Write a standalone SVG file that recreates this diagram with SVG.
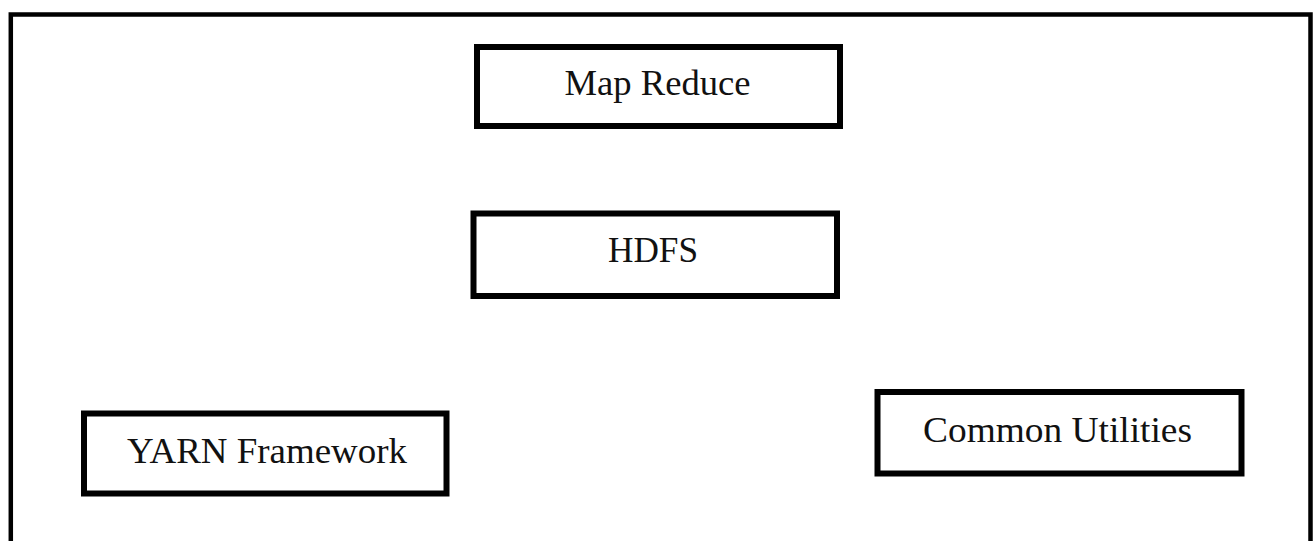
<svg xmlns="http://www.w3.org/2000/svg" width="1315" height="541" viewBox="0 0 1315 541">
<style>
.frame{fill:none;stroke:#000;stroke-width:4.5}
.box{fill:#fff;stroke:#000;stroke-width:6}
.lbl{font-family:"Liberation Serif","Times New Roman",serif;font-size:35px;fill:#111;text-anchor:middle}
</style>
<rect width="1315" height="541" fill="#fff"/>
<rect class="frame" x="10.8" y="14.5" width="1299.7" height="560"/>
<g id="map-reduce">
<rect class="box" x="477" y="47" width="363" height="79"/>
<text class="lbl" x="657.5" y="95" textLength="186" lengthAdjust="spacingAndGlyphs">Map Reduce</text>
</g>
<g id="hdfs">
<rect class="box" x="473.5" y="213.5" width="363.5" height="82.5"/>
<text class="lbl" x="653" y="262" textLength="90" lengthAdjust="spacingAndGlyphs">HDFS</text>
</g>
<g id="yarn">
<rect class="box" x="84" y="413.5" width="362.5" height="80"/>
<text class="lbl" x="267" y="463" textLength="280" lengthAdjust="spacingAndGlyphs">YARN Framework</text>
</g>
<g id="common">
<rect class="box" x="877.5" y="392" width="364" height="81.5"/>
<text class="lbl" x="1057.5" y="442" textLength="269" lengthAdjust="spacingAndGlyphs">Common Utilities</text>
</g>
<g id="connectors"></g>
</svg>
